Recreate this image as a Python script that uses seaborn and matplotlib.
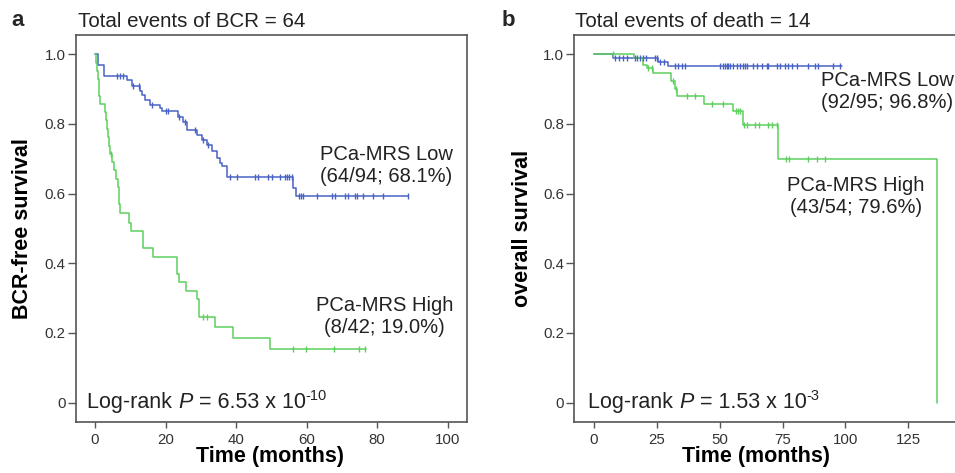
import numpy as np
import pandas as pd
import matplotlib
matplotlib.use("Agg")
import matplotlib.pyplot as plt
import matplotlib.transforms as mtransforms
import seaborn as sns

# ---------------- data ----------------
# Panel a: BCR-free survival
a_low_t = [0, 0.94, 2.55, 8.98, 10.4, 12.76, 13.2, 14.2, 15.6, 18.4, 19.0, 23.6, 25.0,
           26.0, 28.8, 30.3, 31.7, 33.1, 34.5, 35.4, 35.9, 37.3, 56.2, 57.0]
a_low_s = [1.0, 0.970, 0.939, 0.925, 0.910, 0.896, 0.883, 0.869, 0.855, 0.845, 0.837, 0.821, 0.807,
           0.783, 0.769, 0.754, 0.740, 0.721, 0.702, 0.687, 0.678, 0.649, 0.616, 0.593]
a_low_end = 88.8
a_low_cens = [6.3, 7.1, 8.0, 10.9, 12.6, 16.1, 20.1, 20.8, 23.9, 25.5, 28.4, 30.7, 31.9,
              38.3, 40.2, 45.4, 46.3, 49.1, 50.1, 52.5, 53.9, 54.5, 55.1, 55.8,
              57.7, 58.3, 59.1, 62.9, 67.1, 68.1, 70.9, 71.8, 73.7, 74.2, 76.1, 78.9, 81.7, 88.8]

a_high_t = [0, 0.4, 0.6, 0.8, 1.0, 1.2, 1.5, 2.7, 3.0, 3.3, 3.6, 3.9, 4.2, 4.7, 5.3, 6.0,
            6.5, 6.7, 6.9, 7.1, 9.7, 10.1, 13.5, 16.5, 23.2, 23.9, 25.8, 28.8, 29.5, 34.0, 39.0, 49.6]
a_high_s = [1.0, 0.976, 0.952, 0.929, 0.905, 0.881, 0.857, 0.833, 0.810, 0.786, 0.762, 0.738, 0.714,
            0.690, 0.667, 0.643, 0.619, 0.595, 0.571, 0.544, 0.517, 0.493, 0.443, 0.417, 0.370, 0.345,
            0.321, 0.297, 0.247, 0.216, 0.186, 0.155]
a_high_end = 76.8
a_high_cens = [4.4, 30.5, 31.8, 56.0, 59.8, 67.8, 74.9, 76.6]

# Panel b: overall survival
b_low_t = [0, 7.8, 25.7, 29.6]
b_low_s = [1.0, 0.989, 0.978, 0.967]
b_low_end = 98.5
b_low_cens = [8.5, 10.2, 11.8, 13.1, 16.4, 17.3, 18.4, 19.7, 20.7, 24.4, 25.0, 26.5, 27.8,
              32.3, 33.6, 35.0, 36.3, 50.2, 51.5, 52.2, 52.8, 53.5, 54.2, 55.5, 56.8, 58.1,
              59.4, 60.1, 60.8, 63.4, 64.8, 66.7, 68.7, 69.4, 72.7, 74.0, 76.0, 77.3, 78.7,
              80.6, 85.3, 87.9, 89.2, 95.2, 97.9]

b_high_t = [0, 16.0, 19.7, 21.0, 23.4, 30.6, 32.3, 33.2, 43.8, 55.5, 59.2, 73.1, 136.3]
b_high_s = [1.0, 0.989, 0.970, 0.960, 0.946, 0.922, 0.900, 0.879, 0.857, 0.836, 0.797, 0.699, 0.0]
b_high_end = 136.3
b_high_cens = [7.5, 21.7, 23.0, 31.6, 32.5, 37.2, 40.2, 46.9, 51.5, 56.4, 57.4, 58.3, 59.7,
               60.8, 64.1, 65.5, 69.4, 70.7, 72.7, 76.4, 77.7, 85.3, 88.6, 91.9]

a_title = "Total events of BCR = 64"
b_title = "Total events of death = 14"
a_low_label = "PCa-MRS Low\n(64/94; 68.1%)"
a_high_label = "PCa-MRS High\n(8/42; 19.0%)"
b_low_label = "PCa-MRS Low\n(92/95; 96.8%)"
b_high_label = "PCa-MRS High\n(43/54; 79.6%)"
a_p = ("6.53 x 10", "-10")
b_p = ("1.53 x 10", "-3")
a_xticks = [0, 20, 40, 60, 80, 100]
b_xticks = [0, 25, 50, 75, 100, 125]
yticks = [0, 0.2, 0.4, 0.6, 0.8, 1.0]
ytick_labels = ["0", "0.2", "0.4", "0.6", "0.8", "1.0"]

# ---------------- style ----------------
sns.set_style("ticks")
plt.rcParams["font.family"] = ["Liberation Sans", "DejaVu Sans"]
plt.rcParams["mathtext.fontset"] = "custom"
plt.rcParams["mathtext.rm"] = "Liberation Sans"
plt.rcParams["mathtext.it"] = "Liberation Sans:italic"
plt.rcParams["mathtext.bf"] = "Liberation Sans:bold"

BLUE = "#4862c4"
GREEN = "#5ccf5c"
SPINE = "#555555"
TXT = "#222222"

fig = plt.figure(figsize=(9.55, 4.73), dpi=100)
axA = fig.add_axes([0.0796, 0.1085, 0.4091, 0.8175])
axB = fig.add_axes([0.6014, 0.1085, 0.4091, 0.8175])


def draw_curve(ax, t, s, end, cens, color):
    tt = list(t)
    ss = list(s)
    if end > tt[-1]:
        tt.append(end)
        ss.append(ss[-1])
    df = pd.DataFrame({"t": tt, "s": ss})
    sns.lineplot(data=df, x="t", y="s", drawstyle="steps-post", estimator=None,
                 color=color, lw=1.1, ax=ax)
    idx = np.searchsorted(np.array(t), np.array(cens), side="right") - 1
    cs = np.array(s)[idx]
    dfc = pd.DataFrame({"t": cens, "s": cs})
    sns.scatterplot(data=dfc, x="t", y="s", marker="|", s=22, color=color,
                    linewidth=1.0, ax=ax, zorder=3)


draw_curve(axA, a_low_t, a_low_s, a_low_end, a_low_cens, BLUE)
draw_curve(axA, a_high_t, a_high_s, a_high_end, a_high_cens, GREEN)
draw_curve(axB, b_low_t, b_low_s, b_low_end, b_low_cens, BLUE)
draw_curve(axB, b_high_t, b_high_s, b_high_end, b_high_cens, GREEN)

for ax, xt, xl in [(axA, a_xticks, (-5.4, 105.4)), (axB, b_xticks, (-7.7, 147.5))]:
    ax.set_xlim(*xl)
    ax.set_ylim(-0.0546, 1.0554)
    ax.set_xticks(xt)
    ax.set_xticklabels([str(v) for v in xt])
    ax.set_yticks(yticks)
    ax.set_yticklabels(ytick_labels)
    for sp in ax.spines.values():
        sp.set_color(SPINE)
        sp.set_linewidth(1.2)
        sp.set_visible(True)
    ax.tick_params(axis="both", colors=SPINE, labelcolor="#333333", labelsize=10.8,
                   width=1.0, direction="out")
    ax.tick_params(axis="y", length=6, pad=1.5)
    ax.tick_params(axis="x", length=4, pad=4)
    ax.set_xlabel("Time (months)", fontsize=15.5, fontweight="bold", color="black")

axA.set_ylabel("BCR-free survival", fontsize=15.5, fontweight="bold", color="black")
axB.set_ylabel("overall survival", fontsize=15.5, fontweight="bold", color="black")
axA.yaxis.set_label_coords(-0.111, 0.5)
axB.yaxis.set_label_coords(-0.106, 0.5)
axA.xaxis.set_label_coords(0.4964, -0.063)
axB.xaxis.set_label_coords(0.4646, -0.063)

# annotations
axA.text(82.5, 0.680, a_low_label, fontsize=14.5, ha="center", va="center",
         multialignment="center", color=TXT)
axA.text(82.0, 0.246, a_high_label, fontsize=14.5, ha="center", va="center",
         multialignment="center", color=TXT)
axB.text(116.5, 0.892, b_low_label, fontsize=14.5, ha="center", va="center",
         multialignment="center", color=TXT)
axB.text(104.2, 0.591, b_high_label, fontsize=14.5, ha="center", va="center",
         multialignment="center", color=TXT)

# panel letters and titles
fig.text(11 / 955, 1 - 25.5 / 473, "a", fontsize=16, fontweight="bold", ha="left", va="baseline")
fig.text(502 / 955, 1 - 25.5 / 473, "b", fontsize=16, fontweight="bold", ha="left", va="baseline")
fig.text(77.5 / 955, 1 - 26.7 / 473, a_title, fontsize=14.8, ha="left", va="baseline", color=TXT)
fig.text(575 / 955, 1 - 26.7 / 473, b_title, fontsize=14.8, ha="left", va="baseline", color=TXT)

# Log-rank texts: pieces chained one after another
fig.canvas.draw()
renderer = fig.canvas.get_renderer()


def chain_text(ax, x, y, pieces):
    t = ax.text(x, y, pieces[0][0], fontsize=15.5, ha="left", va="baseline", color=TXT,
                style=pieces[0][1])
    for txt, sty, dy, fs in pieces[1:]:
        fig.canvas.draw()
        ext = t.get_window_extent(renderer=renderer)
        trans = mtransforms.offset_copy(t.get_transform(), fig=fig, x=0, y=0, units="dots")
        xd = ext.x1
        x_data, y_data = t.get_position()
        disp = t.get_transform().transform((x_data, y_data))
        newx, newy = ax.transData.inverted().transform((xd, disp[1] + dy))
        t = ax.text(newx, newy, txt, fontsize=fs, ha="left", va="baseline", color=TXT, style=sty)
    return t


for ax, x, (num, exp) in [(axA, -2.2, a_p), (axB, -2.1, b_p)]:
    chain_text(ax, x, -0.015, [("Log-rank ", "normal"),
                               ("P", "italic", 0, 15.5),
                               (" = " + num, "normal", 0, 15.5),
                               (exp, "normal", 8, 10.5)])

fig.savefig("out.png", dpi=100)
